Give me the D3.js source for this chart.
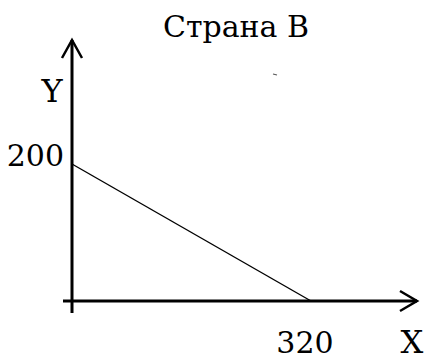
<!DOCTYPE html>
<html>
<head>
<meta charset="utf-8">
<script src="https://cdn.jsdelivr.net/npm/d3@7"></script>
<style>
  body { margin: 0; background: #fff; }
  svg text { font-family: "DejaVu Serif", "Liberation Serif", serif; fill: #000; }
</style>
</head>
<body>
<script>
var title = 'Страна В';
var axisNames = ['X', 'Y'];
// production possibilities: max X and max Y
var xValues = [0, 320];
var yValues = [200, 0];
var xTicks = [320];
var yTicks = [200];

var width = 428, height = 360;

var svg = d3.select('body').append('svg')
    .attr('width', width)
    .attr('height', height);

var x = d3.scaleLinear().domain([0, 320]).range([72, 311]);
var y = d3.scaleLinear().domain([0, 200]).range([301, 164]);

// axes with open arrow heads
svg.append('line')
    .attr('x1', x(0)).attr('y1', 313)
    .attr('x2', x(0)).attr('y2', 40)
    .attr('stroke', '#000').attr('stroke-width', 3);
svg.append('path')
    .attr('d', 'M' + (x(0) - 10) + ',58 L' + x(0) + ',40 L' + (x(0) + 10) + ',58')
    .attr('fill', 'none').attr('stroke', '#000').attr('stroke-width', 2.5);

svg.append('line')
    .attr('x1', 63).attr('y1', y(0))
    .attr('x2', 417).attr('y2', y(0))
    .attr('stroke', '#000').attr('stroke-width', 3);
svg.append('path')
    .attr('d', 'M400,' + (y(0) - 10) + ' L417,' + y(0) + ' L400,' + (y(0) + 10))
    .attr('fill', 'none').attr('stroke', '#000').attr('stroke-width', 2.5);

// the line
var pts = xValues.map(function(d, i) { return [d, yValues[i]]; });
svg.append('path')
    .datum(pts)
    .attr('d', d3.line().x(function(d) { return x(d[0]); }).y(function(d) { return y(d[1]); }))
    .attr('fill', 'none').attr('stroke', '#000').attr('stroke-width', 1.4);

// labels
svg.append('text')
    .attr('x', 236).attr('y', 37)
    .attr('text-anchor', 'middle')
    .style('font-size', '30px')
    .text(title);

svg.selectAll('.ytick').data(yTicks).enter().append('text')
    .attr('x', 64).attr('y', function(d) { return y(d) + 2; })
    .attr('text-anchor', 'end')
    .style('font-size', '30px')
    .text(function(d) { return d; });

svg.selectAll('.xtick').data(xTicks).enter().append('text')
    .attr('x', function(d) { return x(d) - 6; }).attr('y', 353)
    .attr('text-anchor', 'middle')
    .style('font-size', '30px')
    .text(function(d) { return d; });

svg.append('text')
    .attr('x', 52).attr('y', 102)
    .attr('text-anchor', 'middle')
    .style('font-size', '32px')
    .text(axisNames[1]);

svg.append('text')
    .attr('x', 412).attr('y', 353)
    .attr('text-anchor', 'middle')
    .style('font-size', '32px')
    .text(axisNames[0]);

// small scan speck
svg.append('line')
    .attr('x1', 273).attr('y1', 74).attr('x2', 277).attr('y2', 75)
    .attr('stroke', '#555').attr('stroke-width', 1.2);
</script>
</body>
</html>
